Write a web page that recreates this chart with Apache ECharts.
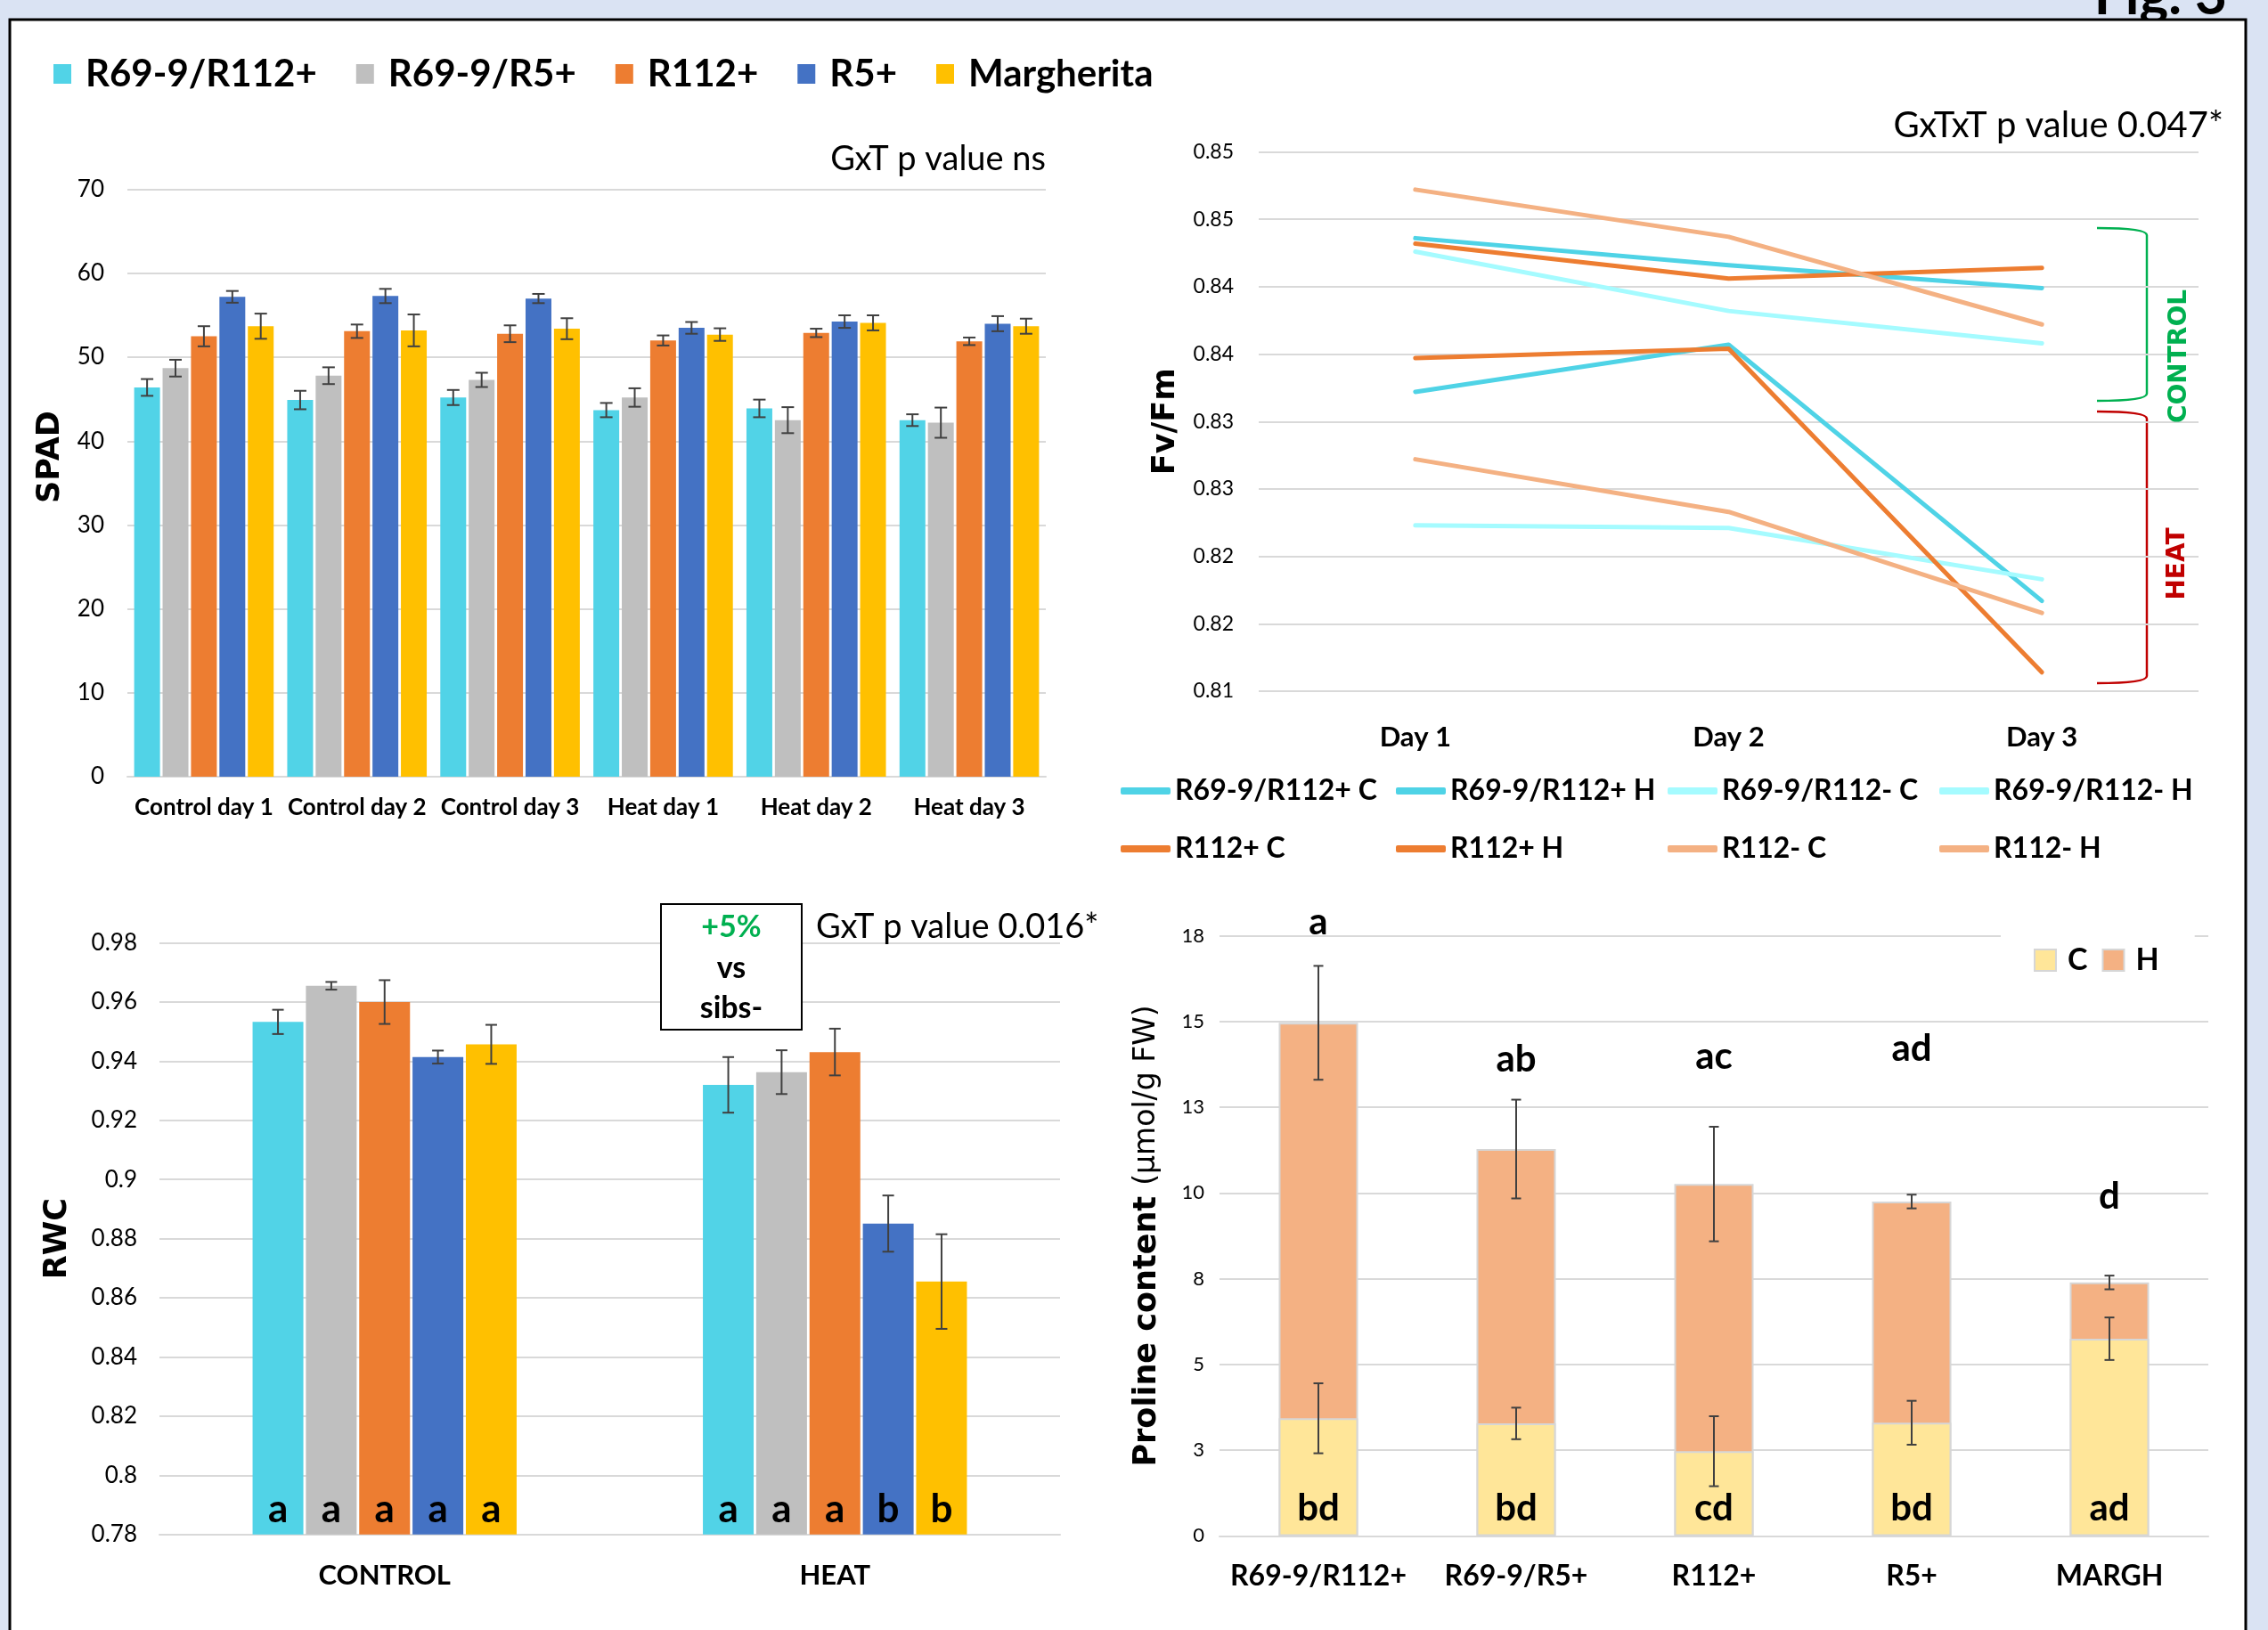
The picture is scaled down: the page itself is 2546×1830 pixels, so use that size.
<!DOCTYPE html>
<html><head><meta charset="utf-8">
<script src="https://cdn.jsdelivr.net/npm/echarts/dist/echarts.min.js"></script>
<style>html,body{margin:0;padding:0;background:#dae3f3;} #c{width:2546px;height:1830px;}</style>
</head><body><div id="c"></div>
<script>
// ---------------- DATA ----------------
const genotypes = ['R69-9/R112+', 'R69-9/R5+', 'R112+', 'R5+', 'Margherita'];

// SPAD
const spadCategories = ['Control day 1', 'Control day 2', 'Control day 3', 'Heat day 1', 'Heat day 2', 'Heat day 3'];
const spadR69R112 = [46.4, 44.9, 45.2, 43.7, 43.9, 42.5];
const spadR69R5   = [48.7, 47.8, 47.3, 45.2, 42.5, 42.2];
const spadR112    = [52.5, 53.1, 52.8, 52.0, 52.9, 51.9];
const spadR5      = [57.2, 57.3, 57.0, 53.5, 54.25, 54.0];
const spadMarg    = [53.7, 53.2, 53.4, 52.7, 54.1, 53.7];
const spadErrR69R112 = [1.0, 1.1, 0.9, 0.85, 1.05, 0.7];
const spadErrR69R5   = [1.0, 1.0, 0.85, 1.1, 1.55, 1.8];
const spadErrR112    = [1.2, 0.8, 1.0, 0.6, 0.5, 0.45];
const spadErrR5      = [0.7, 0.85, 0.55, 0.7, 0.75, 0.9];
const spadErrMarg    = [1.5, 1.9, 1.25, 0.75, 0.9, 0.9];

// Fv/Fm
const fvDays = ['Day 1', 'Day 2', 'Day 3'];
const fvTickLabels = ['0.81', '0.82', '0.82', '0.83', '0.83', '0.84', '0.84', '0.85', '0.85'];
const fvNames = ['R69-9/R112+ C', 'R69-9/R112+ H', 'R69-9/R112- C', 'R69-9/R112- H', 'R112+ C', 'R112+ H', 'R112- C', 'R112- H'];
const fvR69R112pC = [0.8436, 0.8416, 0.8399];
const fvR69R112pH = [0.8322, 0.8357, 0.8167];
const fvR69R112mC = [0.8426, 0.8382, 0.8358];
const fvR69R112mH = [0.8223, 0.8221, 0.8183];
const fvR112pC = [0.8432, 0.8406, 0.8414];
const fvR112pH = [0.8347, 0.8354, 0.8114];
const fvR112mC = [0.8472, 0.8437, 0.8372];
const fvR112mH = [0.8272, 0.8233, 0.8158];

// RWC
const rwcCategories = ['CONTROL', 'HEAT'];
const rwcR69R112 = [0.9533, 0.9320];
const rwcR69R5   = [0.9655, 0.9363];
const rwcR112    = [0.9600, 0.9431];
const rwcR5      = [0.9414, 0.8851];
const rwcMarg    = [0.9457, 0.8655];
const rwcErrR69R112 = [0.0041, 0.0094];
const rwcErrR69R5   = [0.0013, 0.0074];
const rwcErrR112    = [0.0074, 0.0079];
const rwcErrR5      = [0.0022, 0.0095];
const rwcErrMarg    = [0.0066, 0.0160];
const rwcLetters = [['a', 'a'], ['a', 'a'], ['a', 'a'], ['a', 'b'], ['a', 'b']];

// Proline
const prolineCategories = ['R69-9/R112+', 'R69-9/R5+', 'R112+', 'R5+', 'MARGH'];
const prolineTickLabels = ['0', '3', '5', '8', '10', '13', '15', '18'];
const prolineC    = [3.43, 3.28, 2.47, 3.30, 5.75];
const prolineCErr = [1.02, 0.46, 1.02, 0.64, 0.62];
const prolineH    = [14.96, 11.28, 10.26, 9.75, 7.39];
const prolineHErr = [1.66, 1.44, 1.67, 0.20, 0.20];
const prolineCLetters = ['bd', 'bd', 'cd', 'bd', 'ad'];
const prolineHLetters = ['a', 'ab', 'ac', 'ad', 'd'];
const prolineHLetterY = [17.9, 13.88, 13.96, 14.2, 9.9];

// ---------------- STYLE / LAYOUT ----------------
const barColors = ['#51d3e7', '#bfbfbf', '#ed7d31', '#4472c4', '#ffc000'];
const fvColors = ['#4fd3e6', '#4fd3e6', '#a5fbff', '#a5fbff', '#ed7d31', '#ed7d31', '#f4b183', '#f4b183'];
const F = 'Lato';
const FT = 'DejaVu Sans';
const GRID = '#d9d9d9';

function barOffset(i, n, w, g) { const t = n * w + (n - 1) * g; return -t / 2 + i * (w + g) + w / 2; }
function errorSeries(gi, means, errs, offset, cap) {
  return {
    type: 'custom', xAxisIndex: gi, yAxisIndex: gi, z: 5, silent: true,
    data: means.map((m, i) => [i, m, errs[i]]),
    encode: { x: 0, y: 1 },
    renderItem: (params, api) => {
      const c = api.value(0), m = api.value(1), e = api.value(2);
      const p1 = api.coord([c, m + e]), p2 = api.coord([c, m - e]);
      const x = p1[0] + offset;
      const st = { stroke: '#404040', lineWidth: 2 };
      return { type: 'group', children: [
        { type: 'line', shape: { x1: x, y1: p1[1], x2: x, y2: p2[1] }, style: st },
        { type: 'line', shape: { x1: x - cap, y1: p1[1], x2: x + cap, y2: p1[1] }, style: st },
        { type: 'line', shape: { x1: x - cap, y1: p2[1], x2: x + cap, y2: p2[1] }, style: st }
      ] };
    }
  };
}

const series = [];
// SPAD bars
const spadMeans = [spadR69R112, spadR69R5, spadR112, spadR5, spadMarg];
const spadErrs = [spadErrR69R112, spadErrR69R5, spadErrR112, spadErrR5, spadErrMarg];
const SW = 29;
spadMeans.forEach((d, i) => series.push({ type: 'bar', name: genotypes[i], xAxisIndex: 0, yAxisIndex: 0, data: d, barWidth: SW, barGap: '10%', itemStyle: { color: barColors[i] } }));
spadMeans.forEach((d, i) => series.push(errorSeries(0, d, spadErrs[i], barOffset(i, 5, SW, SW * 0.1), 7)));

// Fv/Fm lines
const fvData = [fvR69R112pC, fvR69R112pH, fvR69R112mC, fvR69R112mH, fvR112pC, fvR112pH, fvR112mC, fvR112mH];
fvData.forEach((d, i) => series.push({ type: 'line', name: fvNames[i], xAxisIndex: 1, yAxisIndex: 1, data: d, symbol: 'none',
  itemStyle: { color: fvColors[i] }, lineStyle: { color: fvColors[i], width: 5, cap: 'round', join: 'round' } }));

// RWC bars
const rwcMeans = [rwcR69R112, rwcR69R5, rwcR112, rwcR5, rwcMarg];
const rwcErrs = [rwcErrR69R112, rwcErrR69R5, rwcErrR112, rwcErrR5, rwcErrMarg];
const RW = 57;
rwcMeans.forEach((d, i) => series.push({ type: 'bar', name: genotypes[i], xAxisIndex: 2, yAxisIndex: 2, data: d, barWidth: RW, barGap: '5%',
  itemStyle: { color: barColors[i] },
  label: { show: true, position: 'insideBottom', distance: 6, formatter: p => rwcLetters[i][p.dataIndex], fontFamily: F, fontSize: 44, fontWeight: 'bold', color: '#000' } }));
rwcMeans.forEach((d, i) => series.push(errorSeries(2, d, rwcErrs[i], barOffset(i, 5, RW, RW * 0.05), 6.5)));

// Proline (overlapping bars: H behind, C in front)
const PW = 89;
series.push({ type: 'bar', name: 'H', xAxisIndex: 3, yAxisIndex: 3, data: prolineH, barWidth: PW, barGap: '-100%',
  itemStyle: { color: '#f4b183', borderColor: '#d6d6d6', borderWidth: 2 } });
series.push({ type: 'bar', name: 'C', xAxisIndex: 3, yAxisIndex: 3, data: prolineC, barWidth: PW, barGap: '-100%',
  itemStyle: { color: '#ffe699', borderColor: '#d6d6d6', borderWidth: 2 },
  label: { show: true, position: 'insideBottom', distance: 10, formatter: p => prolineCLetters[p.dataIndex], fontFamily: F, fontSize: 42, fontWeight: 'bold', color: '#000' } });
series.push(errorSeries(3, prolineH, prolineHErr, 0, 5.5));
series.push(errorSeries(3, prolineC, prolineCErr, 0, 5.5));
series.push({ type: 'custom', xAxisIndex: 3, yAxisIndex: 3, z: 6, silent: true,
  data: prolineHLetterY.map((y, i) => [i, y]), encode: { x: 0, y: 1 },
  renderItem: (params, api) => {
    const p = api.coord([api.value(0), api.value(1)]);
    return { type: 'text', style: { text: prolineHLetters[params.dataIndex], x: p[0], y: p[1], textAlign: 'center', align: 'center', textVerticalAlign: 'middle', verticalAlign: 'middle', font: 'bold 42px ' + F, fill: '#000' } };
  } });

// ---------------- AXES ----------------
const lblBase = { color: '#000', fontFamily: F };
const titleStyle = { fontFamily: FT, fontWeight: 'bold', fontSize: 35, color: '#000' };
const grids = [
  { left: 143, top: 212.7, width: 1031, height: 659.3 },
  { left: 1413, top: 170.5, width: 1055, height: 605.5 },
  { left: 179, top: 1058.6, width: 1011, height: 664.1 },
  { left: 1369, top: 1050.5, width: 1110, height: 673.9 }
].map(g => Object.assign({ containLabel: false, outerBoundsMode: 'none' }, g));

const xAxis = [
  { gridIndex: 0, type: 'category', data: spadCategories, axisTick: { show: false }, axisLine: { lineStyle: { color: GRID, width: 2 } },
    axisLabel: Object.assign({ fontSize: 26, fontWeight: 'bold', margin: 22, interval: 0 }, lblBase) },
  { gridIndex: 1, type: 'category', data: fvDays, axisTick: { show: false }, axisLine: { show: false },
    axisLabel: Object.assign({ fontSize: 31, fontWeight: 'bold', margin: 36, interval: 0 }, lblBase) },
  { gridIndex: 2, type: 'category', data: rwcCategories, axisTick: { show: false }, axisLine: { lineStyle: { color: GRID, width: 2 } },
    axisLabel: Object.assign({ fontSize: 31, fontWeight: 'bold', margin: 31, interval: 0 }, lblBase) },
  { gridIndex: 3, type: 'category', data: prolineCategories, axisTick: { show: false }, axisLine: { lineStyle: { color: GRID, width: 2 } },
    axisLabel: Object.assign({ fontSize: 32, fontWeight: 'bold', margin: 29, interval: 0 }, lblBase) }
];
const split = { show: true, lineStyle: { color: GRID, width: 2 } };
const yAxis = [
  { gridIndex: 0, type: 'value', min: 0, max: 70, interval: 10, axisLine: { show: false }, axisTick: { show: false }, splitLine: split,
    axisLabel: Object.assign({ fontSize: 26, margin: 26 }, lblBase) },
  { gridIndex: 1, type: 'value', min: 0.81, max: 0.85, interval: 0.005, axisLine: { show: false }, axisTick: { show: false }, splitLine: split,
    axisLabel: Object.assign({ fontSize: 23, margin: 28, formatter: v => fvTickLabels[Math.round((v - 0.81) / 0.005)] }, lblBase),
    name: 'Fv/Fm', nameLocation: 'middle', nameRotate: 90, nameGap: 87, nameTextStyle: titleStyle },
  { gridIndex: 2, type: 'value', min: 0.78, max: 0.98, interval: 0.02, axisLine: { show: false }, axisTick: { show: false }, splitLine: split,
    axisLabel: Object.assign({ fontSize: 26, margin: 25, formatter: v => String(parseFloat(v.toFixed(2))) }, lblBase),
    name: 'RWC', nameLocation: 'middle', nameRotate: 90, nameGap: 97, nameTextStyle: titleStyle },
  { gridIndex: 3, type: 'value', min: 0, max: 17.5, interval: 2.5, axisLine: { show: false }, axisTick: { show: false }, splitLine: split,
    axisLabel: Object.assign({ fontSize: 22, margin: 17, formatter: v => prolineTickLabels[Math.round(v / 2.5)] }, lblBase),
    name: '{b|Proline content }{r|(µmol/g FW)}', nameLocation: 'middle', nameRotate: 90, nameGap: 64,
    nameTextStyle: { rich: { b: { fontFamily: FT, fontWeight: 'bold', fontSize: 35, color: '#000' }, r: { fontFamily: FT, fontSize: 33, color: '#000' } } } }
];

// ---------------- LEGENDS ----------------
const legends = [
  { left: 60, top: 62, padding: 0, itemWidth: 20, itemHeight: 22, itemGap: 44, icon: 'rect', data: genotypes,
    textStyle: { fontFamily: F, fontSize: 42, fontWeight: 'bold', color: '#000', padding: [0, 0, 0, 11] } },
  { left: 2246, top: 1047, padding: [14, 40, 14, 37], backgroundColor: '#fff', itemWidth: 24, itemHeight: 24, itemGap: 16, icon: 'rect', data: ['C', 'H'],
    textStyle: { fontFamily: F, fontSize: 34, fontWeight: 'bold', color: '#000', padding: [0, 0, 0, 8] } }
];
const fvLegX = [1258, 1567, 1872, 2177];
const fvLegY = [872, 937];
fvNames.forEach((n, i) => {
  legends.push({ left: fvLegX[i % 4], top: fvLegY[Math.floor(i / 4)], padding: 0, itemWidth: 56, itemHeight: 8, icon: 'roundRect', data: [n],
    textStyle: { fontFamily: F, fontSize: 32, fontWeight: 'bold', color: '#000' } });
});

// ---------------- DECORATION ----------------
function bracket(x0, x1, y0, y1, color) {
  const st = { stroke: color, lineWidth: 2.5, fill: null };
  return { type: 'group', z: 10, children: [
    { type: 'bezierCurve', shape: { x1: x0, y1: y0, x2: x1, y2: y0 + 8, cpx1: x1, cpy1: y0 }, style: st },
    { type: 'line', shape: { x1: x1, y1: y0 + 8, x2: x1, y2: y1 - 8 }, style: st },
    { type: 'bezierCurve', shape: { x1: x1, y1: y1 - 8, x2: x0, y2: y1, cpx1: x1, cpy1: y1 }, style: st }
  ] };
}
const mid = { textAlign: 'center', align: 'center', textVerticalAlign: 'middle', verticalAlign: 'middle' };
const graphic = [
  { type: 'text', z: -11, style: { text: 'Fig. 3', x: 2500, y: 27, font: 'bold 62px ' + F, fill: '#000', textAlign: 'right', align: 'right', textVerticalAlign: 'bottom', verticalAlign: 'bottom' } },
  { type: 'rect', z: -10, shape: { x: 11, y: 22, width: 2510, height: 1850 }, style: { fill: '#fff', stroke: '#000', lineWidth: 3 } },
  { type: 'text', z: 10, x: 57, y: 513, rotation: Math.PI / 2, style: Object.assign({ text: 'SPAD', x: 0, y: 0, font: 'bold 35px ' + FT, fill: '#000' }, mid) },
  { type: 'text', style: { text: 'GxT p value ns', x: 1174, y: 179, font: '38px ' + F, fill: '#000', textAlign: 'right', align: 'right', textVerticalAlign: 'middle', verticalAlign: 'middle' } },
  { type: 'text', style: { text: 'GxTxT p value 0.047*', x: 2496, y: 141, font: '40px ' + F, fill: '#000', textAlign: 'right', align: 'right', textVerticalAlign: 'middle', verticalAlign: 'middle' } },
  bracket(2354, 2410, 256, 450, '#00b050'),
  bracket(2354, 2410, 462, 767, '#c00000'),
  { type: 'text', z: 10, x: 2447, y: 400, rotation: Math.PI / 2, style: Object.assign({ text: 'CONTROL', x: 0, y: 0, font: 'bold 28px ' + FT, fill: '#00b050' }, mid) },
  { type: 'text', z: 10, x: 2445, y: 633, rotation: Math.PI / 2, style: Object.assign({ text: 'HEAT', x: 0, y: 0, font: 'bold 28px ' + FT, fill: '#c00000' }, mid) },
  { type: 'rect', z: 10, shape: { x: 742, y: 1015, width: 158, height: 141 }, style: { fill: '#fff', stroke: '#000', lineWidth: 2 } },
  { type: 'text', z: 11, style: Object.assign({ text: '+5%', x: 821, y: 1041, font: 'bold 34px ' + F, fill: '#00b050' }, mid) },
  { type: 'text', z: 11, style: Object.assign({ text: 'vs', x: 821, y: 1087, font: 'bold 34px ' + F, fill: '#000' }, mid) },
  { type: 'text', z: 11, style: Object.assign({ text: 'sibs-', x: 821, y: 1132, font: 'bold 34px ' + F, fill: '#000' }, mid) },
  { type: 'text', z: 11, style: { text: 'GxT p value 0.016*', x: 916, y: 1041, font: '38px ' + F, fill: '#000', textAlign: 'left', align: 'left', textVerticalAlign: 'middle', verticalAlign: 'middle' } }
];

const chart = echarts.init(document.getElementById('c'), null, { renderer: 'canvas', width: 2546, height: 1830 });
chart.setOption({
  backgroundColor: '#dae3f3',
  animation: false,
  textStyle: { fontFamily: F },
  grid: grids, xAxis: xAxis, yAxis: yAxis,
  legend: legends,
  graphic: graphic,
  series: series
});
</script></body></html>
